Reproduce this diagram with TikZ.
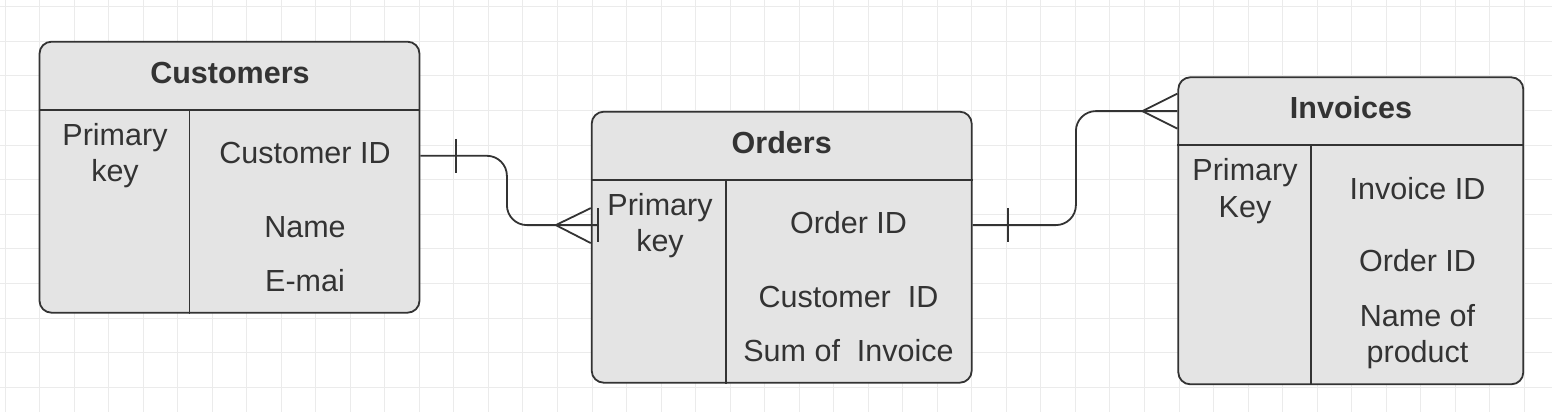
\documentclass[tikz,border=0pt]{standalone}
\usepackage{fontspec}
\setmainfont{Liberation Sans}
\usetikzlibrary{calc}
\definecolor{ink}{HTML}{333333}
\definecolor{boxfill}{HTML}{E4E4E4}
\definecolor{gridc}{HTML}{EBEBEB}
\begin{document}
\begin{tikzpicture}[x=1pt,y=-1pt,
  every node/.style={font=\fontsize{30.5}{36.6}\selectfont, text=ink, inner sep=0pt},
  entity/.style={draw=ink, fill=boxfill, line width=1.8pt, rounded corners=12pt, rectangle, inner sep=0pt},
  divider/.style={draw=ink, line width=1.8pt},
  conn/.style={draw=ink, line width=1.8pt},
  gridline/.style={draw=gridc, line width=1pt},
  txt/.style={anchor=base, align=center}]
\useasboundingbox (0,0) rectangle (1552,412);
\fill[white] (0,0) rectangle (1552,412);
% grid
\foreach \i in {0,...,44} \draw[gridline] ({5+34.53*\i},0) -- ({5+34.53*\i},412);
\foreach \j in {0,...,11} \draw[gridline] (0,{6.7+34.6*\j}) -- (1552,{6.7+34.6*\j});
% entities
\node[entity, minimum width=380pt, minimum height=271pt] (cust) at (229.5,177.2) {};
\node[entity, minimum width=380pt, minimum height=271pt] (ord) at (781.7,247.2) {};
\node[entity, minimum width=345pt, minimum height=307pt] (inv) at (1350.8,230.8) {};
% dividers
\draw[divider] ($(cust.north west)+(0,69)$) -- ($(cust.north east)+(0,69)$);
\draw[divider] ($(cust.north west)+(150.8,69)$) -- ($(cust.south west)+(150.8,0)$);
\draw[divider] ($(ord.north west)+(0,69)$) -- ($(ord.north east)+(0,69)$);
\draw[divider] ($(ord.north west)+(135.3,69)$) -- ($(ord.south west)+(135.3,0)$);
\draw[divider] ($(inv.north west)+(0,68.7)$) -- ($(inv.north east)+(0,68.7)$);
\draw[divider] ($(inv.north west)+(133.4,68.7)$) -- ($(inv.south west)+(133.4,0)$);
% connector customers -> orders
\coordinate (c1s) at ($(cust.north east)+(0,115)$);
\coordinate (c1e) at ($(ord.north west)+(7.3,114.3)$);
\draw[conn, rounded corners=20pt] (c1s) -- ($(c1s)+(86.5,0)$) |- (c1e);
\draw[conn] ($(c1s)+(35.5,-17)$) -- ($(c1s)+(35.5,17)$);
\draw[conn] ($(ord.north west)+(0,97.3)$) -- ($(ord.north west)+(-35,114.3)$) -- ($(ord.north west)+(0,132.3)$);
\draw[conn] ($(c1e)+(0,-17)$) -- ($(c1e)+(0,17)$);
% connector orders -> invoices
\coordinate (c2s) at ($(ord.north east)+(0,114.3)$);
\coordinate (c2e) at ($(inv.north west)+(0,34.7)$);
\draw[conn, rounded corners=20pt] (c2s) -- ($(c2s)+(103.3,0)$) |- (c2e);
\draw[conn] ($(c2s)+(35,-17)$) -- ($(c2s)+(35,17)$);
\draw[conn] ($(c2e)+(0,-17.5)$) -- ($(c2e)+(-35,0)$) -- ($(c2e)+(0,17.5)$);
% texts customers
\node[txt] (custT) at (230,83.3) {\bfseries Customers};
\node[txt] (custPK) at (115,181.6) {Primary\\key};
\node[txt] (custA1) at (305,163.3) {Customer ID};
\node[txt] (custA2) at (305,237.3) {Name};
\node[txt] (custA3) at (305,291.7) {E-mai};
% texts orders
\node[txt] (ordT) at (781.7,153.3) {\bfseries Orders};
\node[txt] (ordPK) at (660,251.6) {Primary\\key};
\node[txt] (ordA1) at (848.5,233.3) {Order ID};
\node[txt] (ordA2) at (848.5,307.3) {Customer~~ID};
\node[txt] (ordA3) at (848.5,361.7) {Sum of~~Invoice};
% texts invoices
\node[txt] (invT) at (1351,118.3) {\bfseries Invoices};
\node[txt] (invPK) at (1245,217.3) {Primary\\Key};
\node[txt] (invA1) at (1417.5,199) {Invoice ID};
\node[txt] (invA2) at (1417.5,271.7) {Order ID};
\node[txt] (invA3) at (1417.5,362.6) {Name of\\product};
\end{tikzpicture}
\end{document}
